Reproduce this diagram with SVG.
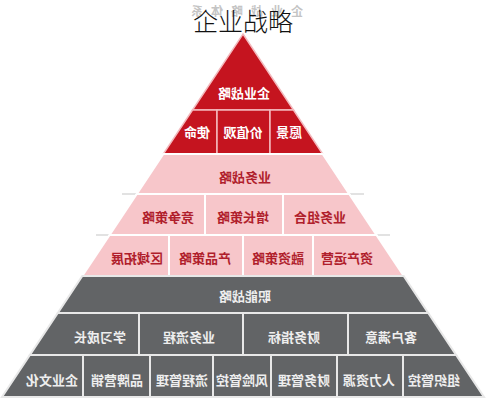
<svg xmlns="http://www.w3.org/2000/svg" width="487" height="400" viewBox="0 0 487 400">
<style>
.r{fill:#c5141f;stroke:#f3b9bd;stroke-width:1.5}
.p{fill:#f7c6ca;stroke:#ffffff;stroke-width:2}
.g{fill:#626466;stroke:#e8e8e8;stroke-width:2}
text{font-family:"Noto Sans CJK SC","Noto Sans",sans-serif;font-size:13px;font-weight:bold;text-anchor:middle;dominant-baseline:central}
.tr{fill:#ffffff}
.tp{fill:#b01e2c}
.tg{fill:#eeeeee}
.ext{stroke:#e2e2e2;stroke-width:2}
</style>
<rect width="487" height="400" fill="#ffffff"/>
<g id="ghost-title"><text transform="matrix(-1 0 0 1 243 0)" y="10" style="fill:#c4c4c4;font-size:12px;letter-spacing:8px">企业战略体系</text></g>
<g id="title"><text x="243" y="20" style="fill:#111;font-size:25px;font-weight:300">企业战略</text></g>
<g id="connectors">
<line class="ext" x1="122" y1="194" x2="364" y2="194"/>
<line class="ext" x1="96" y1="235" x2="390" y2="235"/>
</g>
<g id="n-qiye"><polygon class="r" points="243,34 293.5,110 192.5,110"/><text class="tr" transform="matrix(-1 0 0 1 244 0)" y="92">企业战略</text></g>
<g id="n-shiming"><polygon class="r" points="192.5,110 217,110 217,154 163.3,154"/><text class="tr" transform="matrix(-1 0 0 1 197 0)" y="131">使命</text></g>
<g id="n-jiazhiguan"><polygon class="r" points="217,110 270,110 270,154 217,154"/><text class="tr" transform="matrix(-1 0 0 1 243 0)" y="131">价值观</text></g>
<g id="n-yuanjing"><polygon class="r" points="270,110 293.5,110 322.7,154 270,154"/><text class="tr" transform="matrix(-1 0 0 1 289 0)" y="131">愿景</text></g>
<g id="n-yewu"><polygon class="p" points="163.3,154 322.7,154 349.2,194 136.8,194"/><text class="tp" transform="matrix(-1 0 0 1 245 0)" y="176">业务战略</text></g>
<g id="n-jingzheng"><polygon class="p" points="136.8,194 205,194 205,235 109.6,235"/><text class="tp" transform="matrix(-1 0 0 1 168 0)" y="216">竞争策略</text></g>
<g id="n-zengzhang"><polygon class="p" points="205,194 283,194 283,235 205,235"/><text class="tp" transform="matrix(-1 0 0 1 243 0)" y="216">增长策略</text></g>
<g id="n-zuhe"><polygon class="p" points="283,194 349.2,194 376.4,235 283,235"/><text class="tp" transform="matrix(-1 0 0 1 320 0)" y="216">业务组合</text></g>
<g id="n-quyu"><polygon class="p" points="109.6,235 169,235 169,276 82.3,276"/><text class="tp" transform="matrix(-1 0 0 1 137 0)" y="257">区域拓展</text></g>
<g id="n-chanpin"><polygon class="p" points="169,235 243,235 243,276 169,276"/><text class="tp" transform="matrix(-1 0 0 1 205 0)" y="257">产品策略</text></g>
<g id="n-rongzi"><polygon class="p" points="243,235 313,235 313,276 243,276"/><text class="tp" transform="matrix(-1 0 0 1 278 0)" y="257">融资策略</text></g>
<g id="n-zichan"><polygon class="p" points="313,235 376.4,235 403.7,276 313,276"/><text class="tp" transform="matrix(-1 0 0 1 347 0)" y="257">资产运营</text></g>
<g id="n-zhineng"><polygon class="g" points="82.3,276 403.7,276 428.2,313 57.8,313"/><text class="tg" transform="matrix(-1 0 0 1 245 0)" y="295">职能战略</text></g>
<g id="n-xuexi"><polygon class="g" points="57.8,313 139,313 139,355 29.9,355"/><text class="tg" transform="matrix(-1 0 0 1 100 0)" y="336">学习成长</text></g>
<g id="n-liucheng"><polygon class="g" points="139,313 243,313 243,355 139,355"/><text class="tg" transform="matrix(-1 0 0 1 189 0)" y="336">业务流程</text></g>
<g id="n-caiwuzb"><polygon class="g" points="243,313 348,313 348,355 243,355"/><text class="tg" transform="matrix(-1 0 0 1 294 0)" y="336">财务指标</text></g>
<g id="n-kehu"><polygon class="g" points="348,313 428.2,313 456.1,355 348,355"/><text class="tg" transform="matrix(-1 0 0 1 391 0)" y="336">客户满意</text></g>
<g id="n-wenhua"><polygon class="g" points="29.9,355 83,355 83,397 2,397"/><text class="tg" transform="matrix(-1 0 0 1 52 0)" y="379">企业文化</text></g>
<g id="n-pinpai"><polygon class="g" points="83,355 150,355 150,397 83,397"/><text class="tg" transform="matrix(-1 0 0 1 117 0)" y="379">品牌营销</text></g>
<g id="n-lcgl"><polygon class="g" points="150,355 213,355 213,397 150,397"/><text class="tg" transform="matrix(-1 0 0 1 182 0)" y="379">流程管理</text></g>
<g id="n-fengxian"><polygon class="g" points="213,355 271,355 271,397 213,397"/><text class="tg" transform="matrix(-1 0 0 1 242 0)" y="379">风险管控</text></g>
<g id="n-cwgl"><polygon class="g" points="271,355 337,355 337,397 271,397"/><text class="tg" transform="matrix(-1 0 0 1 304 0)" y="379">财务管理</text></g>
<g id="n-renli"><polygon class="g" points="337,355 403,355 403,397 337,397"/><text class="tg" transform="matrix(-1 0 0 1 369 0)" y="379">人力资源</text></g>
<g id="n-zuzhi"><polygon class="g" points="403,355 456.1,355 484,397 403,397"/><text class="tg" transform="matrix(-1 0 0 1 434 0)" y="379">组织管控</text></g>
</svg>
